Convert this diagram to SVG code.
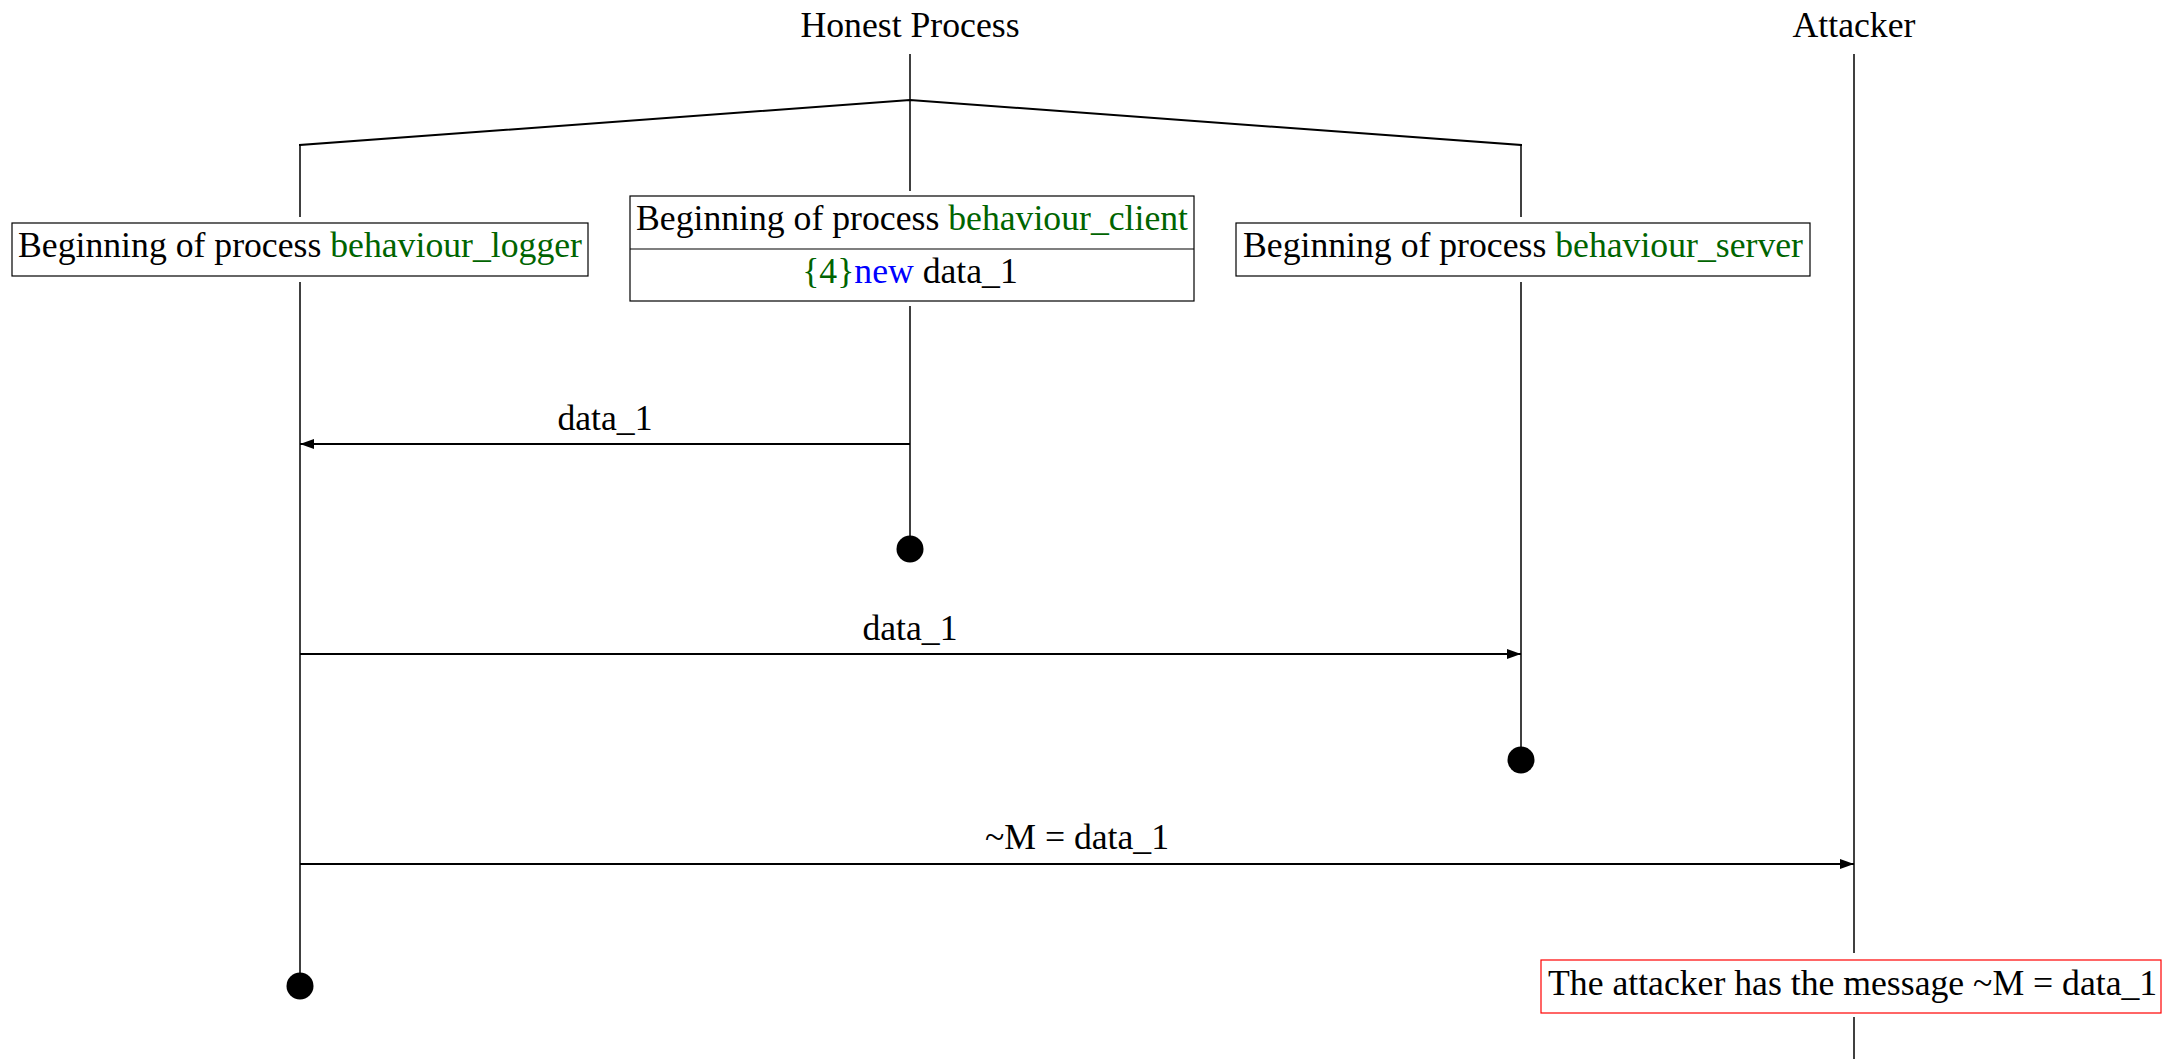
<svg xmlns="http://www.w3.org/2000/svg" width="2162" height="1059" viewBox="0 0 2162 1059">
<style>
  text { font-family: "Liberation Serif", "Times New Roman", serif; font-size: 35.7px; fill: #000; }
  .g { fill: #006400; }
  .b { fill: #0000ff; }
  .life { stroke: #000; stroke-width: 1.5; fill: none; }
  .fork { stroke: #000; stroke-width: 2; fill: none; }
  .box { fill: #fff; stroke: #000; stroke-width: 1.2; }
  .rbox { fill: #fff; stroke: #ff0000; stroke-width: 1.2; }
  .msg { stroke: #000; stroke-width: 2; fill: none; }
  .end { fill: #000; }
</style>
<defs>
  <marker id="ah" markerUnits="userSpaceOnUse" markerWidth="16" markerHeight="12" refX="14" refY="5" orient="auto">
    <path d="M0,0 L14,5 L0,10 Z" fill="#000"/>
  </marker>
</defs>

<g id="honest-process">
  <text x="910" y="37" text-anchor="middle">Honest Process</text>
  <line class="life" x1="910" y1="54" x2="910" y2="100"/>
  <polyline class="fork" points="300,146 300,145 910,100 1521,145 1521,146"/>
</g>

<g id="logger">
  <line class="life" x1="300" y1="145" x2="300" y2="217"/>
  <rect class="box" x="12" y="223" width="576" height="53"/>
  <text x="300" y="257" text-anchor="middle">Beginning of process <tspan class="g">behaviour_logger</tspan></text>
  <line class="life" x1="300" y1="282" x2="300" y2="973"/>
  <circle class="end" cx="300" cy="986" r="13.5"/>
</g>

<g id="client">
  <line class="life" x1="910" y1="100" x2="910" y2="191"/>
  <rect class="box" x="630" y="196" width="564" height="105"/>
  <line class="box" x1="630" y1="249" x2="1194" y2="249"/>
  <text x="912" y="230" text-anchor="middle">Beginning of process <tspan class="g">behaviour_client</tspan></text>
  <text x="910" y="283" text-anchor="middle"><tspan class="g">{4}</tspan><tspan class="b">new</tspan> data_1</text>
  <line class="life" x1="910" y1="306" x2="910" y2="536"/>
  <circle class="end" cx="910" cy="549" r="13.5"/>
</g>

<g id="server">
  <line class="life" x1="1521" y1="145" x2="1521" y2="217"/>
  <rect class="box" x="1236" y="223" width="574" height="53"/>
  <text x="1523" y="257" text-anchor="middle">Beginning of process <tspan class="g">behaviour_server</tspan></text>
  <line class="life" x1="1521" y1="282" x2="1521" y2="747"/>
  <circle class="end" cx="1521" cy="760" r="13.5"/>
</g>

<g id="attacker">
  <text x="1854" y="37" text-anchor="middle">Attacker</text>
  <line class="life" x1="1854" y1="54" x2="1854" y2="953"/>
  <rect class="rbox" x="1541" y="960" width="620" height="53"/>
  <text x="1548" y="995">The attacker has the message ~M = data_1</text>
  <line class="life" x1="1854" y1="1017" x2="1854" y2="1059"/>
</g>

<g id="connectors">
  <line class="msg" x1="910" y1="444" x2="300" y2="444" marker-end="url(#ah)"/>
  <text x="605" y="430" text-anchor="middle">data_1</text>
  <line class="msg" x1="300" y1="654" x2="1521" y2="654" marker-end="url(#ah)"/>
  <text x="910" y="640" text-anchor="middle">data_1</text>
  <line class="msg" x1="300" y1="864" x2="1854" y2="864" marker-end="url(#ah)"/>
  <text x="1077" y="849" text-anchor="middle">~M = data_1</text>
</g>
</svg>
